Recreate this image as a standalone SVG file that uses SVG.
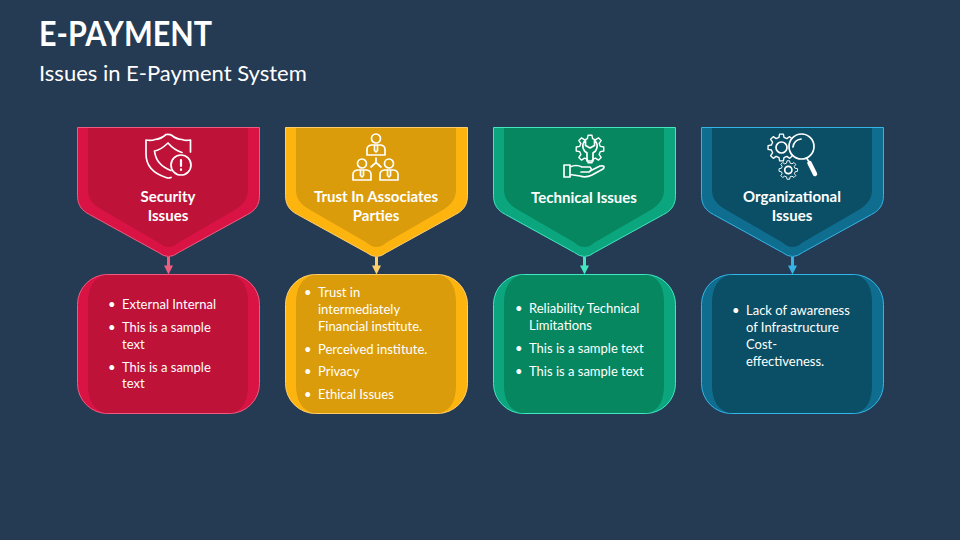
<svg xmlns="http://www.w3.org/2000/svg" width="960" height="540" viewBox="0 0 960 540">
<style>
text{font-family:"Lato","Liberation Sans",sans-serif;fill:#fff}
.t{font-size:35px;font-weight:700}
.s{font-size:22px}
.h{font-size:15px;font-weight:700;text-anchor:middle}
.b{font-size:13px}
.i{fill:none;stroke:#fff;stroke-width:1.7;stroke-linejoin:round;stroke-linecap:round}
.red .o{fill:#D91444;stroke:#EE5C80}.red .n{fill:#BE1238}
.yel .o{fill:#FDB40F;stroke:#FFCE6A}.yel .n{fill:#DA9C0A}
.grn .o{fill:#0BA57E;stroke:#45E5C0}.grn .n{fill:#06875F}
.blu .o{fill:#0F6E8F;stroke:#35B4E6}.blu .n{fill:#0A4F66}
.c{stroke-width:3;fill:none}
</style>
<defs>
<path id="po" d="M0 0H182V68C182 77 178 83 170 87L101 125Q91 133 81 125L12 87C4 83 0 77 0 68Z" stroke-width="1"/>
<path id="pn" d="M10.500 0.500H170.500V62C170.500 71 166 77 158 82L101 115Q91 124 81 115L24 82C15 77 10.500 71 10.500 62Z"/>
<rect id="bo" width="182" height="139" rx="30" stroke-width="1"/>
<path id="bn" d="M28 0.500H154C166 3 170.500 14 170.500 28V111C170.500 125 166 136 154 138.500H28C16 136 10.500 125 10.500 111V28C10.500 14 16 3 28 0.500Z"/>
<path id="gear" d="M12.600-3.140L16.800-2.370 16.800 2.370 12.600 3.140 11.140 6.700 13.580 10.230 10.230 13.580 6.700 11.140 3.140 12.600 2.370 16.800-2.370 16.800-3.140 12.600-6.700 11.140-10.230 13.580-13.580 10.230-11.140 6.700-12.600 3.140-16.800 2.370-16.800-2.370-12.600-3.140-11.140-6.700-13.580-10.230-10.230-13.580-6.700-11.140-3.140-12.600-2.370-16.800 2.370-16.800 3.140-12.600 6.700-11.140 10.230-13.580 13.580-10.230 11.140-6.700Z"/>
<g id="person"><circle cx="0" cy="-9" r="4.500"/><path d="M-9 7.500V2Q-9-2-4.500-2.500H4.500Q9-2 9 2V7.500Z"/><path d="M-1.500-2V3L0 4.500L1.500 3V-2"/></g>
</defs>
<rect width="960" height="540" fill="#253B54"/>
<text class="t" x="39" y="46" textLength="173" lengthAdjust="spacingAndGlyphs">E-PAYMENT</text>
<text class="s" x="39" y="80.500">Issues in E-Payment System</text>

<g id="connectors">
<g class="c">
<path d="M168.500 257V267" stroke="#EE5C80"/><path d="M164 265.500H173L168.500 274.500Z" fill="#EE5C80" stroke="none"/>
<path d="M376.500 257V267" stroke="#FFCE6A"/><path d="M372 265.500H381L376.500 274.500Z" fill="#FFCE6A" stroke="none"/>
<path d="M584.500 257V267" stroke="#45E5C0"/><path d="M580 265.500H589L584.500 274.500Z" fill="#45E5C0" stroke="none"/>
<path d="M792.500 257V267" stroke="#35B4E6"/><path d="M788 265.500H797L792.500 274.500Z" fill="#35B4E6" stroke="none"/>
</g>
</g>

<g id="node-security" class="red">
<g transform="translate(77.500,127.500)"><use href="#po" class="o"/><use href="#pn" class="n"/></g>
<g class="i">
<path d="M171 177.500Q168.500 178.500 166 177.500Q146 171 146 154V140Q151 141 155 139.500Q161 139 166 134.500Q170 134 172 135.500Q176 139 182 139.500Q186 141 190.500 140V152"/>
<path d="M154.500 151Q160 150.500 168 143Q174 150 182 152.500M154.500 151Q156 165 171 170.500"/>
<circle cx="181" cy="165" r="10"/>
<path d="M181 160V166M181 169.300V170" stroke-width="2.200"/>
</g>
<text class="h" x="168" y="202">Security</text>
<text class="h" x="168" y="221">Issues</text>
</g>
<g id="node-security-text" class="red">
<g transform="translate(77.500,274.500)"><use href="#bo" class="o"/><use href="#bn" class="n"/></g>
<text class="b" x="108" y="309">•</text><text class="b" x="122" y="309">External Internal</text>
<text class="b" x="108" y="332">•</text><text class="b" x="122" y="332">This is a sample</text><text class="b" x="122" y="349">text</text>
<text class="b" x="108" y="372">•</text><text class="b" x="122" y="372">This is a sample</text><text class="b" x="122" y="388">text</text>
</g>

<g id="node-trust" class="yel">
<g transform="translate(285.500,127.500)"><use href="#po" class="o"/><use href="#pn" class="n"/></g>
<g class="i">
<use href="#person" transform="translate(376,147.500)"/>
<use href="#person" transform="translate(362,172.500)"/>
<use href="#person" transform="translate(389,172.500)"/>
<path d="M376 158V162.500M376 162.500L371 167M376 162.500L381 167"/>
</g>
<text class="h" x="376" y="202">Trust In Associates</text>
<text class="h" x="376" y="221">Parties</text>
</g>
<g id="node-trust-text" class="yel">
<g transform="translate(285.500,274.500)"><use href="#bo" class="o"/><use href="#bn" class="n"/></g>
<text class="b" x="304" y="297">•</text><text class="b" x="318" y="297">Trust in</text><text class="b" x="318" y="314">intermediately</text><text class="b" x="318" y="331">Financial institute.</text>
<text class="b" x="304" y="354">•</text><text class="b" x="318" y="354">Perceived institute.</text>
<text class="b" x="304" y="376">•</text><text class="b" x="318" y="376">Privacy</text>
<text class="b" x="304" y="399">•</text><text class="b" x="318" y="399">Ethical Issues</text>
</g>

<g id="node-technical" class="grn">
<g transform="translate(493.500,127.500)"><use href="#po" class="o"/><use href="#pn" class="n"/></g>
<g class="i">
<use href="#gear" transform="translate(590,149) scale(.82)"/>
<path d="M585.500 140V145.500L590 148L594.500 145.500V140Q599.500 145 595.500 151L593 153V161H587V153L584.500 151Q580.500 145 585.500 140Z"/>
<path d="M564 165H570V177H564ZM570 167Q576 164 582 167H590Q593 170 589 172H581M590 171L600 166Q606 165 603 169L592 175Q586 178 580 176L570 174.500"/>
</g>
<text class="h" x="584" y="203">Technical Issues</text>
</g>
<g id="node-technical-text" class="grn">
<g transform="translate(493.500,274.500)"><use href="#bo" class="o"/><use href="#bn" class="n"/></g>
<text class="b" x="515" y="313">•</text><text class="b" x="529" y="313">Reliability Technical</text><text class="b" x="529" y="330">Limitations</text>
<text class="b" x="515" y="353">•</text><text class="b" x="529" y="353">This is a sample text</text>
<text class="b" x="515" y="376">•</text><text class="b" x="529" y="376">This is a sample text</text>
</g>

<g id="node-organizational" class="blu">
<g transform="translate(701.500,127.500)"><use href="#po" class="o"/><use href="#pn" class="n"/></g>
<g class="i">
<use href="#gear" transform="translate(781.500,147.500) scale(.8)"/>
<circle cx="781.500" cy="147.500" r="5.500"/>
<use href="#gear" transform="translate(788.300,170) scale(.55)"/>
<circle cx="788.300" cy="170" r="3.600"/>
<circle cx="801.500" cy="146.500" r="12.500" fill="#0A4F66"/>
<path d="M793 147Q794 140 801 139"/>
<path d="M806.500 158L808.500 161"/>
<path d="M809.500 163L815 174" stroke-width="4.500"/>
</g>
<text class="h" x="792" y="202">Organizational</text>
<text class="h" x="792" y="221">Issues</text>
</g>
<g id="node-organizational-text" class="blu">
<g transform="translate(701.500,274.500)"><use href="#bo" class="o"/><use href="#bn" class="n"/></g>
<text class="b" x="732" y="315">•</text><text class="b" x="746" y="315">Lack of awareness</text><text class="b" x="746" y="332">of Infrastructure</text><text class="b" x="746" y="349">Cost-</text><text class="b" x="746" y="366">effectiveness.</text>
</g>
</svg>
